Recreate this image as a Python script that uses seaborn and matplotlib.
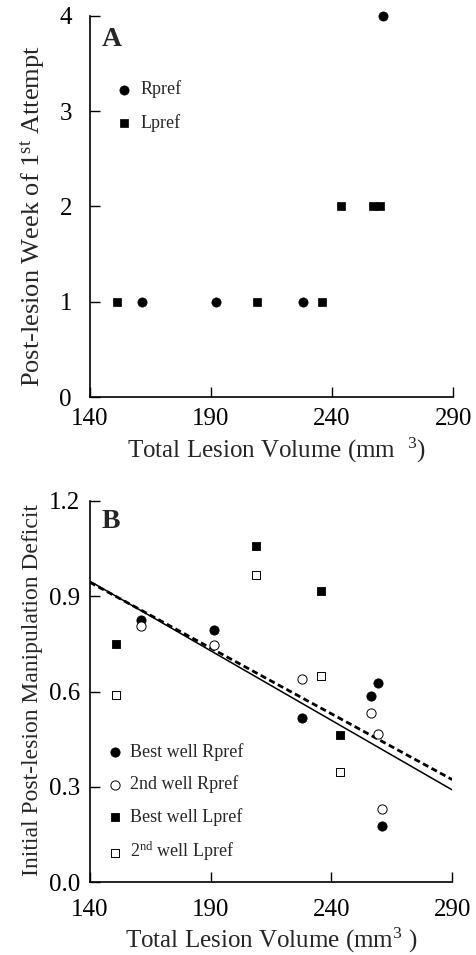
import matplotlib
matplotlib.use('Agg')
import matplotlib.pyplot as plt
import seaborn as sns
import numpy as np

sns.set_theme(style='ticks')
plt.rcParams['font.family'] = ['Liberation Serif', 'DejaVu Serif']
plt.rcParams['mathtext.fontset'] = 'custom'
plt.rcParams['mathtext.rm'] = 'Liberation Serif'
plt.rcParams['mathtext.it'] = 'Liberation Serif:italic'
plt.rcParams['mathtext.bf'] = 'Liberation Serif:bold'

# ---------------- Data ----------------
# Panel A: post-lesion week of first attempt
a_rpref_x = [161.3, 191.9, 228.1, 261.2]
a_rpref_y = [1, 1, 1, 4]
a_lpref_x = [151.0, 208.9, 235.7, 243.6, 256.8, 259.8]
a_lpref_y = [1, 1, 1, 2, 2, 2]

# Panel B: initial post-lesion manipulation deficit
b_rpref_x = [161.0, 191.5, 227.9, 256.2, 259.4, 261.0]
b_best_rpref = [0.826, 0.794, 0.516, 0.585, 0.628, 0.176]
b_2nd_rpref = [0.808, 0.747, 0.639, 0.532, 0.466, 0.230]
b_lpref_x = [150.8, 208.7, 235.7, 243.5]
b_best_lpref = [0.751, 1.057, 0.916, 0.464]
b_2nd_lpref = [0.588, 0.966, 0.648, 0.348]

x_ticks = [140, 190, 240, 290]
a_y_ticks = [0, 1, 2, 3, 4]
b_y_ticks = [0.0, 0.3, 0.6, 0.9, 1.2]
b_y_ticklabels = ['0.0', '0.3', '0.6', '0.9', '1.2']

# ---------------- Figure ----------------
fig = plt.figure(figsize=(4.76, 9.55), dpi=100)
axA = fig.add_axes([0.189, 0.584, 0.763, 0.3996])
axB = fig.add_axes([0.189, 0.0761, 0.761, 0.3993])

ms = 44
for ax in (axA, axB):
    ax.set_xlim(140, 290)

# Panel A
sns.scatterplot(x=a_rpref_x, y=a_rpref_y, ax=axA, color='black', marker='o',
                s=ms, edgecolor='black', linewidth=0.5, label='Rpref', clip_on=False, zorder=3)
sns.scatterplot(x=a_lpref_x, y=a_lpref_y, ax=axA, color='black', marker='s',
                s=ms * 0.9, edgecolor='black', linewidth=0.5, label='Lpref', clip_on=False, zorder=3)
axA.set_ylim(0, 4)
axA.set_xticks(x_ticks)
axA.set_yticks(a_y_ticks)
axA.set_xlabel('Total Lesion Volume (mm  $^{3}$)', fontsize=18)
axA.set_ylabel('Post-lesion Week of 1$^{\\mathrm{st}}$ Attempt', fontsize=19)
axA.xaxis.set_label_coords(0.512, -0.100)
axA.yaxis.set_label_coords(-0.118, 0.475)
axA.text(0.033, 0.921, 'A', transform=axA.transAxes, fontsize=20,
         fontweight='bold', ha='left', va='baseline')
axA.tick_params(axis='x', direction='in', length=7, width=1, labelsize=18, pad=8)
axA.tick_params(axis='y', direction='in', length=7, width=1, labelsize=18, pad=13)
legA = axA.legend(loc='upper left', bbox_to_anchor=(0.069, 0.83), frameon=False,
                  fontsize=13, handlelength=1.0, handletextpad=0.4,
                  labelspacing=0.85, borderpad=0, borderaxespad=0)

# Panel B
sns.scatterplot(x=b_rpref_x, y=b_best_rpref, ax=axB, color='black', marker='o',
                s=ms, edgecolor='black', linewidth=0.6, label='Best well Rpref', clip_on=False, zorder=3)
sns.scatterplot(x=b_rpref_x, y=b_2nd_rpref, ax=axB, color='white', marker='o',
                s=ms, edgecolor='black', linewidth=0.7, label='2nd well Rpref', clip_on=False, zorder=3)
sns.scatterplot(x=b_lpref_x, y=b_best_lpref, ax=axB, color='black', marker='s',
                s=ms * 0.9, edgecolor='black', linewidth=0.6, label='Best well Lpref', clip_on=False, zorder=3)
sns.scatterplot(x=b_lpref_x, y=b_2nd_lpref, ax=axB, color='white', marker='s',
                s=ms * 0.9, edgecolor='black', linewidth=0.7, label='2$^{\\mathrm{nd}}$ well Lpref',
                clip_on=False, zorder=3)

axB.set_xlim(140, 290)
sns.regplot(x=b_rpref_x, y=b_best_rpref, ax=axB, scatter=False, ci=None, truncate=False,
            line_kws=dict(color='black', lw=2.0, ls=(0, (2.2, 1.3)), zorder=2))
sns.regplot(x=b_rpref_x, y=b_2nd_rpref, ax=axB, scatter=False, ci=None, truncate=False,
            line_kws=dict(color='black', lw=1.1, ls='-', zorder=2))
axB.set_xlim(140, 290)
axB.set_ylim(0, 1.2)
axB.set_xticks(x_ticks)
axB.set_yticks(b_y_ticks)
axB.set_yticklabels(b_y_ticklabels)
axB.set_xlabel('Total Lesion Volume (mm$^{3}$ )', fontsize=18)
axB.set_ylabel('Initial Post-lesion Manipulation Deficit', fontsize=17)
axB.xaxis.set_label_coords(0.50, -0.113)
axB.yaxis.set_label_coords(-0.13, 0.504)
axB.text(0.033, 0.929, 'B', transform=axB.transAxes, fontsize=20,
         fontweight='bold', ha='left', va='baseline')
axB.tick_params(axis='x', direction='in', length=7, width=1, labelsize=18, pad=12)
axB.tick_params(axis='y', direction='in', length=7, width=1, labelsize=18, pad=7)
legB = axB.legend(loc='upper left', bbox_to_anchor=(0.044, 0.365), frameon=False,
                  fontsize=13, handlelength=1.0, handletextpad=0.35,
                  labelspacing=0.8, borderpad=0, borderaxespad=0)

for ax in (axA, axB):
    sns.despine(ax=ax)
    for sp in ('left', 'bottom'):
        ax.spines[sp].set_linewidth(1.2)
        ax.spines[sp].set_color('black')
    ax.tick_params(colors='black')

fig.savefig('out.png', dpi=100)
